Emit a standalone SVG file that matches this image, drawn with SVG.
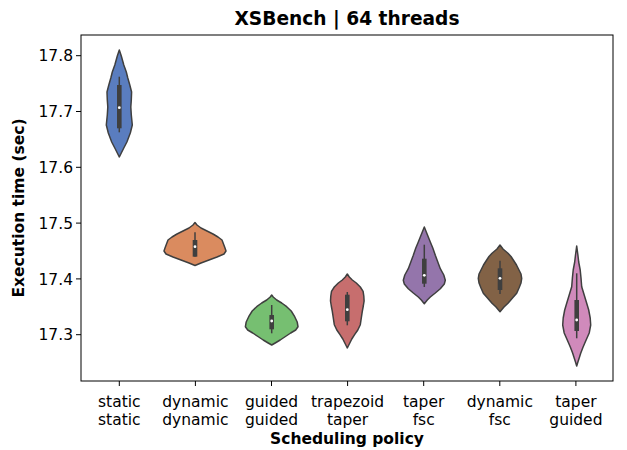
<svg xmlns="http://www.w3.org/2000/svg" width="627" height="450" viewBox="0 0 627 450">
<style>
text{font-family:"DejaVu Sans",sans-serif;fill:#000}
.tk{font-size:15.5px}
.lb{font-size:15.5px;font-weight:bold}
.ti{font-size:18.6px;font-weight:bold}
.v{stroke:#3f3f3f;stroke-width:1.5;stroke-linejoin:round}
.bx{stroke:#3f3f3f;stroke-width:4.6}
.wh{stroke:#3f3f3f;stroke-width:1.5}
.md{fill:#ffffff}
.tick{stroke:#000;stroke-width:1}
</style>
<rect width="627" height="450" fill="#ffffff"/>
<text class="ti" x="347" y="25" text-anchor="middle">XSBench | 64 threads</text>
<g id="violin-static-static">
<path class="v" fill="#5a7dbf" d="M119.3,50 L121.3,56 L123.8,65 L126.3,72 L127.8,78 L129.8,85 L131.6,92 L131.3,100 L130.8,107 L131.3,115 L132.3,125 L130.3,133 L126.9,142 L123.8,148 L121.3,153 L119.3,157 L117.3,153 L114.8,148 L111.7,142 L108.3,133 L106.3,125 L107.3,115 L107.8,107 L107.3,100 L107,92 L108.8,85 L110.8,78 L112.3,72 L114.8,65 L117.3,56 Z"/>
<line class="wh" x1="119.3" y1="76.7" x2="119.3" y2="132.3"/>
<line class="bx" x1="119.3" y1="85" x2="119.3" y2="128.3"/>
<circle class="md" cx="119.3" cy="107.7" r="1.4"/>
</g>
<g id="violin-dynamic-dynamic">
<path class="v" fill="#da8b5f" d="M195,222.5 L197,225 L201,228 L207,231 L213,234 L218,237 L222,240 L223.5,244 L225,248 L226,251 L224,254 L217,257 L209,260 L201,263 L195,265.5 L189,263 L181,260 L173,257 L166,254 L164,251 L165,248 L166.5,244 L168,240 L172,237 L177,234 L183,231 L189,228 L193,225 Z"/>
<line class="wh" x1="195" y1="232.3" x2="195" y2="256.7"/>
<line class="bx" x1="195" y1="240" x2="195" y2="256.7"/>
<circle class="md" cx="195" cy="246.7" r="1.4"/>
</g>
<g id="violin-guided-guided">
<path class="v" fill="#76bf71" d="M271.7,295 L273.2,297 L276.7,300 L281.7,303 L286.7,306.7 L291.2,311 L294.7,316.7 L297.2,322 L298,326.7 L295.7,330 L290.7,333 L284.7,337 L280.2,340 L275.2,343 L271.7,345 L268.2,343 L263.2,340 L258.7,337 L252.7,333 L247.7,330 L245.4,326.7 L246.2,322 L248.7,316.7 L252.2,311 L256.7,306.7 L261.7,303 L266.7,300 L270.2,297 Z"/>
<line class="wh" x1="271.7" y1="305" x2="271.7" y2="333.3"/>
<line class="bx" x1="271.7" y1="315" x2="271.7" y2="329.3"/>
<circle class="md" cx="271.7" cy="321" r="1.4"/>
</g>
<g id="violin-trapezoid-taper">
<path class="v" fill="#c76e6e" d="M347.3,274 L349.3,277 L352.3,280 L356.3,283 L360.3,287 L363.1,291.3 L363.8,296 L364.1,301 L363.3,306 L362.3,311.3 L361.3,318 L360.3,324.7 L357.8,330 L354.6,334.7 L351.8,339 L349.8,343 L347.3,348 L344.8,343 L342.8,339 L340,334.7 L336.8,330 L334.3,324.7 L333.3,318 L332.3,311.3 L331.3,306 L330.5,301 L330.8,296 L331.5,291.3 L334.3,287 L338.3,283 L342.3,280 L345.3,277 Z"/>
<line class="wh" x1="347.3" y1="292" x2="347.3" y2="325.3"/>
<line class="bx" x1="347.3" y1="294.7" x2="347.3" y2="321.3"/>
<circle class="md" cx="347.3" cy="309.7" r="1.4"/>
</g>
<g id="violin-taper-fsc">
<path class="v" fill="#9475ab" d="M424.3,227 L426.3,232 L428.3,237 L430.3,242 L432.8,248 L435.3,255.3 L437.8,262 L440.3,268.7 L443.8,275 L445.3,280.3 L444.3,284 L440.3,288.7 L435.3,293 L430.3,297 L427.3,300 L424.3,303.7 L421.3,300 L418.3,297 L413.3,293 L408.3,288.7 L404.3,284 L403.3,280.3 L404.8,275 L408.3,268.7 L410.8,262 L413.3,255.3 L415.8,248 L418.3,242 L420.3,237 L422.3,232 Z"/>
<line class="wh" x1="424.3" y1="244.7" x2="424.3" y2="287"/>
<line class="bx" x1="424.3" y1="258.7" x2="424.3" y2="283.7"/>
<circle class="md" cx="424.3" cy="275.3" r="1.4"/>
</g>
<g id="violin-dynamic-fsc">
<path class="v" fill="#826246" d="M500,245 L503,249 L508,253.3 L511,256.5 L513.3,260 L516.5,265 L519,270 L521,274 L521.7,278.3 L521,283 L519,288 L516.7,293.3 L512.5,298 L508,303.3 L504,307 L500,311.7 L496,307 L492,303.3 L487.5,298 L483.3,293.3 L481,288 L479,283 L478.3,278.3 L479,274 L481,270 L483.5,265 L486.7,260 L489,256.5 L492,253.3 L497,249 Z"/>
<line class="wh" x1="500" y1="260.7" x2="500" y2="294"/>
<line class="bx" x1="500" y1="268.3" x2="500" y2="290"/>
<circle class="md" cx="500" cy="278.3" r="1.4"/>
</g>
<g id="violin-taper-guided">
<path class="v" fill="#d08abb" d="M576.7,246 L577.9,255 L578.7,262 L580.2,270 L581,278 L581.7,286.7 L584.2,295 L586.7,303.3 L588.7,310 L590.2,318 L590.7,325 L589.2,333 L584.7,343.3 L582.7,348 L580.7,353.3 L579.2,358 L577.9,362 L576.7,366 L575.5,362 L574.2,358 L572.7,353.3 L570.7,348 L568.7,343.3 L564.2,333 L562.7,325 L563.2,318 L564.7,310 L566.7,303.3 L569.2,295 L571.7,286.7 L572.4,278 L573.2,270 L574.7,262 L575.5,255 Z"/>
<line class="wh" x1="576.7" y1="273.3" x2="576.7" y2="338.3"/>
<line class="bx" x1="576.7" y1="300" x2="576.7" y2="331"/>
<circle class="md" cx="576.7" cy="320" r="1.4"/>
</g>
<g id="axes">
<rect x="81" y="35" width="532" height="346" fill="none" stroke="#000" stroke-width="1"/>
<g class="tick">
<line x1="76" y1="55.7" x2="81" y2="55.7"/>
<line x1="76" y1="111.5" x2="81" y2="111.5"/>
<line x1="76" y1="167.3" x2="81" y2="167.3"/>
<line x1="76" y1="223.1" x2="81" y2="223.1"/>
<line x1="76" y1="278.9" x2="81" y2="278.9"/>
<line x1="76" y1="334.7" x2="81" y2="334.7"/>
<line x1="119.3" y1="381" x2="119.3" y2="386"/>
<line x1="195.4" y1="381" x2="195.4" y2="386"/>
<line x1="271.5" y1="381" x2="271.5" y2="386"/>
<line x1="347.6" y1="381" x2="347.6" y2="386"/>
<line x1="423.7" y1="381" x2="423.7" y2="386"/>
<line x1="499.8" y1="381" x2="499.8" y2="386"/>
<line x1="575.9" y1="381" x2="575.9" y2="386"/>
</g>
<g class="tk" text-anchor="end">
<text x="73" y="61.3">17.8</text>
<text x="73" y="117.1">17.7</text>
<text x="73" y="172.9">17.6</text>
<text x="73" y="228.7">17.5</text>
<text x="73" y="284.5">17.4</text>
<text x="73" y="340.3">17.3</text>
</g>
<g class="tk" text-anchor="middle">
<text x="119.3" y="407">static</text><text x="119.3" y="425">static</text>
<text x="195.4" y="407">dynamic</text><text x="195.4" y="425">dynamic</text>
<text x="271.5" y="407">guided</text><text x="271.5" y="425">guided</text>
<text x="347.6" y="407">trapezoid</text><text x="347.6" y="425">taper</text>
<text x="423.7" y="407">taper</text><text x="423.7" y="425">fsc</text>
<text x="499.8" y="407">dynamic</text><text x="499.8" y="425">fsc</text>
<text x="575.9" y="407">taper</text><text x="575.9" y="425">guided</text>
</g>
<text class="lb" x="347" y="444" text-anchor="middle">Scheduling policy</text>
<text class="lb" transform="translate(24,208) rotate(-90)" text-anchor="middle">Execution time (sec)</text>
</g>
</svg>
